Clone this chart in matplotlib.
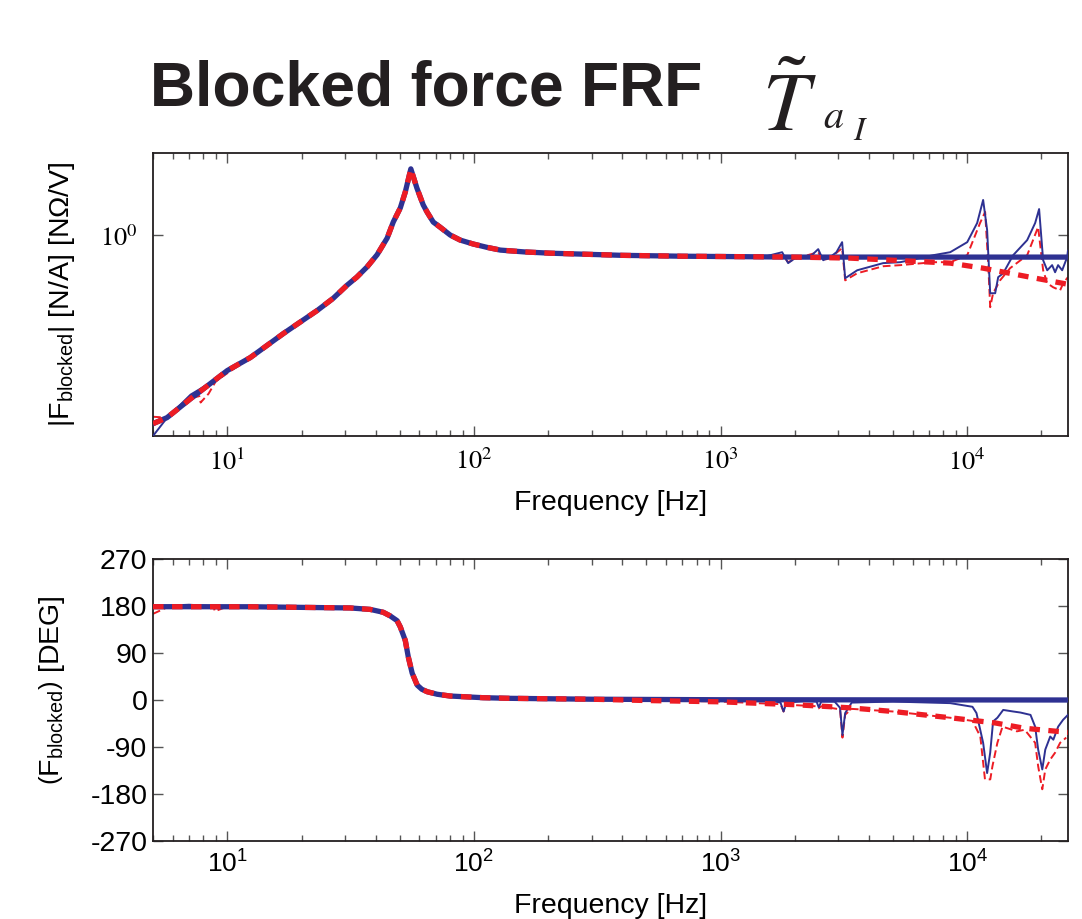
import matplotlib

matplotlib.use("Agg")
import matplotlib.pyplot as plt
import numpy as np
from matplotlib.ticker import FixedLocator, LogLocator, NullLocator, NullFormatter

plt.rcParams["font.family"] = ["Liberation Sans", "DejaVu Sans"]
plt.rcParams["mathtext.fontset"] = "custom"
plt.rcParams["mathtext.rm"] = "Liberation Sans"
plt.rcParams["mathtext.it"] = "Liberation Sans:italic"
plt.rcParams["mathtext.bf"] = "Liberation Sans:bold"
plt.rcParams["mathtext.sf"] = "Liberation Sans"

BLUE = "#2e3192"
RED = "#ed1c24"

# --- magnitude, model (thick lines) ---
mag_f_shared = [5.0, 5.7, 7.1, 10, 12.4, 16.9, 23.2, 26.9, 30.6, 33.5, 36.9, 40.5, 44.5, 47.1, 50.3,
                52.7, 55.5, 58.7, 62.3, 64.6, 68.4, 72.9, 80.2, 88, 99.3, 113, 128, 160, 204, 400, 700, 1000]
mag_v_shared = [0.2155, 0.2264, 0.264, 0.332, 0.369, 0.449, 0.542, 0.598, 0.665, 0.710, 0.772, 0.852,
                0.976, 1.112, 1.247, 1.42, 1.714, 1.468, 1.278, 1.206, 1.112, 1.067, 1.0, 0.960, 0.930,
                0.905, 0.885, 0.872, 0.863, 0.848, 0.842, 0.840]
mag_model_a_f = [2000, 5000, 10000, 25600]
mag_model_a_v = [0.836, 0.836, 0.836, 0.836]
mag_model_b_f = [2000, 3350, 5000, 8530, 11590, 17980, 25600]
mag_model_b_v = [0.836, 0.829, 0.815, 0.796, 0.764, 0.710, 0.670]

# --- magnitude, measured (thin lines) ---
mag_meas_a_lo_f = [5.0, 5.7, 7.1, 8.5]
mag_meas_a_lo_v = [0.195, 0.226, 0.273, 0.300]
mag_meas_a_hi_f = [1500, 1777, 1879, 2005, 2300, 2488, 2607, 2782, 2950, 3110, 3200, 3580, 4560, 5350,
                   7280, 8530, 10000, 10970, 11600, 12040, 12390, 12980, 13350, 13990, 15350, 17500,
                   18850, 19560, 20310, 21100, 22090, 22710, 23350, 24260, 25420, 25600]
mag_meas_a_hi_v = [0.838, 0.870, 0.796, 0.829, 0.836, 0.892, 0.815, 0.836, 0.870, 0.944, 0.704, 0.751,
                   0.796, 0.802, 0.849, 0.870, 0.944, 1.103, 1.331, 1.042, 0.623, 0.623, 0.710, 0.733,
                   0.849, 0.960, 1.103, 1.236, 0.815, 0.751, 0.783, 0.739, 0.783, 0.751, 0.836, 0.88]
mag_meas_b_lo_f = [5.0, 5.7, 7.1, 7.7, 7.8, 8.4, 9.0]
mag_meas_b_lo_v = [0.228, 0.2264, 0.264, 0.27, 0.256, 0.275, 0.305]
mag_meas_b_hi_f = [1500, 1777, 1879, 2005, 2488, 2607, 2782, 3110, 3200, 3580, 4560, 5350, 7280, 8530,
                   10000, 11270, 11820, 12160, 12390, 12730, 13590, 14920, 17500, 19380, 20310, 21100,
                   22300, 23800, 24500, 25600]
mag_meas_b_hi_v = [0.833, 0.849, 0.802, 0.825, 0.870, 0.815, 0.830, 0.899, 0.692, 0.733, 0.776, 0.783,
                   0.802, 0.802, 0.849, 1.103, 1.207, 0.796, 0.556, 0.623, 0.692, 0.764, 0.849, 1.068,
                   0.751, 0.676, 0.654, 0.638, 0.676, 0.710]

# --- phase, model (thick lines) ---
ph_f_shared = [5.0, 12.4, 31.5, 38.0, 42.9, 45.8, 48.8, 50.3, 52.7, 54.2, 56.2, 58.9, 61.5, 64.7,
               71.0, 80.2, 109, 140, 300]
ph_v_shared = [178.7, 178.6, 176.3, 173.5, 168, 161, 152, 140, 114, 82.4, 51.4, 28.5, 20.5, 15.8,
               11.0, 7.6, 4.4, 3.2, 1.5]
ph_model_a_f = [1000, 25600]
ph_model_a_v = [0.5, 0.0]
ph_model_b_f = [500, 1000, 2000, 3350, 5000, 8530, 13000, 17000, 25600]
ph_model_b_v = [-1, -3.5, -9, -15, -22, -34, -44, -54, -62]

# --- phase, measured (thin lines) ---
ph_meas_a_lo_f = [5.0, 6.0, 7.0, 8.5, 10.0]
ph_meas_a_lo_v = [179, 181, 182.5, 180, 179]
ph_meas_a_hi_f = [1000, 1600, 1750, 1800, 1850, 2200, 2450, 2500, 2560, 2900, 3050, 3120, 3200, 3400,
                  5000, 8530, 10500, 10900, 11600, 12040, 12390, 12730, 13250, 13990, 15350, 16430,
                  18050, 18850, 19390, 20150, 20720, 21700, 22340, 23370, 24460, 25600]
ph_meas_a_hi_v = [0.5, -1, -5, -22, -5, -2, -3, -14, -3, -3, -15, -67, -25, -5, -3, -6, -13, -25, -82,
                  -140, -101, -41, -34, -19, -22, -24, -28.5, -51, -95, -133, -95, -70, -76, -51, -38, -28.5]
ph_meas_b_lo_f = [5.0, 5.8, 8.8, 8.9, 9.9]
ph_meas_b_lo_v = [165, 179, 179, 170, 178]
ph_meas_b_hi_f = [1000, 1750, 1800, 1850, 2450, 2500, 2560, 3050, 3120, 3200, 3400, 5000, 8530, 10500,
                  11300, 11800, 12400, 12650, 13250, 13900, 15900, 17100, 18850, 19390, 20150, 20720,
                  21700, 22700, 23800, 25200]
ph_meas_b_hi_v = [-3, -8, -22, -9, -12, -16, -12, -18, -72, -28, -17, -22, -34, -40, -70, -152, -152,
                  -127, -82, -51, -60, -57, -82, -127, -171, -133, -114, -101, -82, -72]

x_ticks = [10, 100, 1000, 10000]
x_exps = [1, 2, 3, 4]
phase_ticks = [-270, -180, -90, 0, 90, 180, 270]


def join(*parts):
    return np.concatenate([np.asarray(p, dtype=float) for p in parts])


def style_axes(ax):
    ax.set_xscale("log")
    ax.set_xlim(5, 25600)
    ax.xaxis.set_major_locator(FixedLocator(x_ticks))
    ax.xaxis.set_minor_locator(LogLocator(base=10, subs=np.arange(2, 10)))
    ax.xaxis.set_minor_formatter(NullFormatter())
    ax.tick_params(which="both", direction="in", top=True, right=True, color="#555555", width=1.0)
    ax.tick_params(which="major", length=7)
    ax.tick_params(which="minor", length=4)
    for s in ax.spines.values():
        s.set_linewidth(1.3)
        s.set_color("#231f20")


def draw(ax, thick_a, thick_b, thin_a, thin_b):
    ax.plot(*thin_b, color=RED, lw=1.4, dashes=(4, 2), zorder=2)
    ax.plot(*thin_a, color=BLUE, lw=1.4, zorder=3)
    ax.plot(*thick_a, color=BLUE, lw=3.8, zorder=4)
    ax.plot(*thick_b, color=RED, lw=3.8, dashes=(2.0, 1.6), zorder=5)


fig = plt.figure(figsize=(10.82, 9.19), dpi=100)
ax1 = fig.add_axes([0.1414, 0.5256, 0.8456, 0.3079])
ax2 = fig.add_axes([0.1414, 0.0849, 0.8456, 0.3068])

# --- Magnitude ---
draw(
    ax1,
    (join(mag_f_shared, mag_model_a_f), join(mag_v_shared, mag_model_a_v)),
    (join(mag_f_shared, mag_model_b_f), join(mag_v_shared, mag_model_b_v)),
    (join(mag_meas_a_lo_f, mag_f_shared[3:], mag_meas_a_hi_f),
     join(mag_meas_a_lo_v, mag_v_shared[3:], mag_meas_a_hi_v)),
    (join(mag_meas_b_lo_f, mag_f_shared[4:], mag_meas_b_hi_f),
     join(mag_meas_b_lo_v, mag_v_shared[4:], mag_meas_b_hi_v)),
)
style_axes(ax1)
ax1.set_yscale("log")
ax1.set_ylim(0.195, 1.95)
ax1.yaxis.set_major_locator(FixedLocator([1.0]))
ax1.yaxis.set_minor_locator(NullLocator())
ax1.set_yticklabels([r"$10^{0}$"], math_fontfamily="stix", fontsize=19)
ax1.set_xticklabels([rf"$10^{{{e}}}$" for e in x_exps], math_fontfamily="stix", fontsize=19)
ax1.tick_params(axis="x", which="major", pad=9)
ax1.tick_params(axis="y", which="major", pad=11)
ax1.set_xlabel("Frequency [Hz]", fontsize=20.5)
ax1.xaxis.set_label_coords(0.5, -0.19)
ax1.xaxis.label.set_va("top")
ax1.set_ylabel(r"$|\mathrm{F}_{\mathrm{blocked}}|$ [N/A] [N$\Omega$/V]", fontsize=20.5)
ax1.yaxis.set_label_coords(-0.083, 0.5)

# --- Phase ---
draw(
    ax2,
    (join(ph_f_shared, ph_model_a_f), join(ph_v_shared, ph_model_a_v)),
    (join(ph_f_shared, ph_model_b_f), join(ph_v_shared, ph_model_b_v)),
    (join(ph_meas_a_lo_f, ph_f_shared[1:], ph_meas_a_hi_f),
     join(ph_meas_a_lo_v, ph_v_shared[1:], ph_meas_a_hi_v)),
    (join(ph_meas_b_lo_f, ph_f_shared[1:], ph_meas_b_hi_f),
     join(ph_meas_b_lo_v, ph_v_shared[1:], ph_meas_b_hi_v)),
)
style_axes(ax2)
ax2.set_ylim(-270, 270)
ax2.yaxis.set_major_locator(FixedLocator(phase_ticks))
ax2.set_yticklabels([str(t) for t in phase_ticks], fontsize=20.5)
ax2.set_xticklabels([rf"$10^{{{e}}}$" for e in x_exps], fontsize=19)
ax2.tick_params(axis="x", which="major", pad=7)
ax2.tick_params(axis="y", which="major", pad=4)
ax2.set_xlabel("Frequency [Hz]", fontsize=20.5)
ax2.xaxis.set_label_coords(0.5, -0.185)
ax2.xaxis.label.set_va("top")
ax2.set_ylabel(r"$\left(\mathrm{F}_{\mathrm{blocked}}\right)$ [DEG]", fontsize=20.5)
ax2.yaxis.set_label_coords(-0.094, 0.535)

# --- Title ---
fig.text(150 / 1082, 1 - 105 / 919, "Blocked force FRF", fontsize=45, fontweight="bold",
         color="#231f20", va="baseline")
fig.text(762 / 1082, 1 - 131 / 919, r"$\tilde{T}$", fontsize=60, math_fontfamily="stix",
         color="#231f20", va="baseline")
fig.text(823 / 1082, 1 - 128 / 919, r"$a$", fontsize=29, math_fontfamily="stix",
         color="#231f20", va="baseline")
fig.text(853 / 1082, 1 - 140 / 919, r"$I$", fontsize=24, math_fontfamily="stix",
         color="#231f20", va="baseline")

fig.savefig("out.png", dpi=100)
